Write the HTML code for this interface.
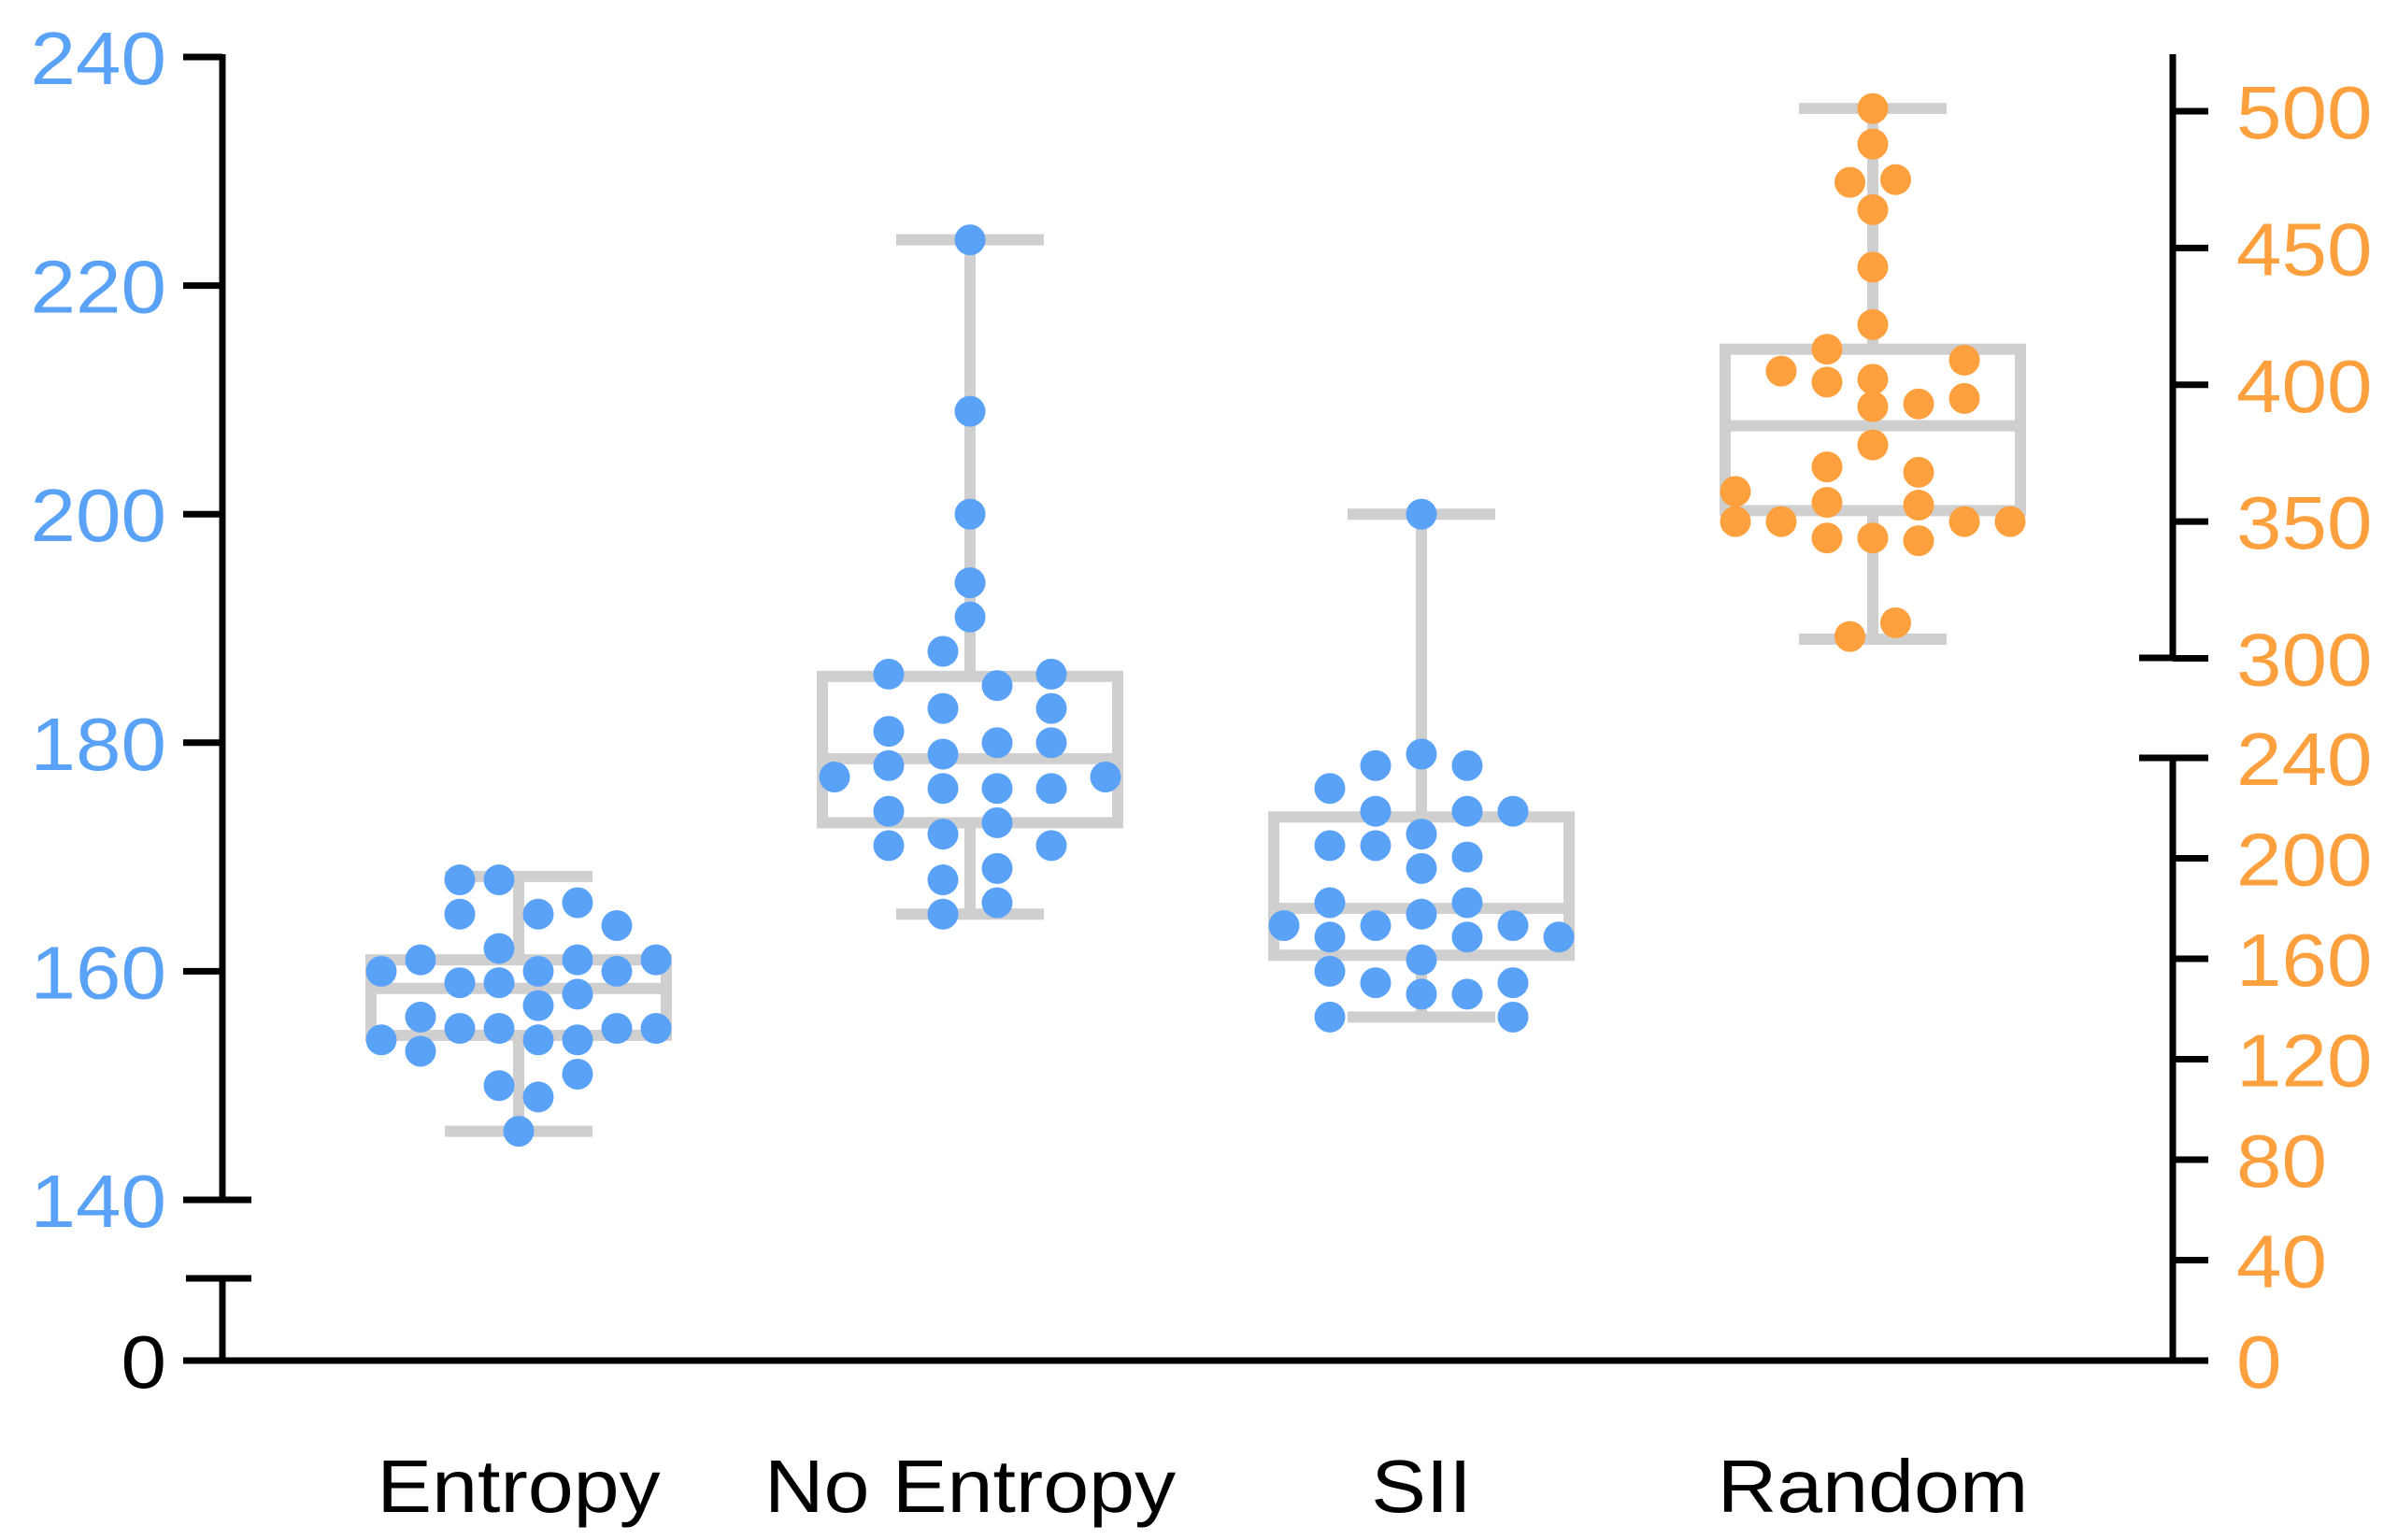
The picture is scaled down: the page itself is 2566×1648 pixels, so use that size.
<!DOCTYPE html>
<html><head><meta charset="utf-8"><style>
html,body{margin:0;padding:0;background:#fff;}
svg{display:block;font-family:"Liberation Sans",sans-serif;}
</style></head><body>
<svg id="chart" width="2566" height="1648" viewBox="0 0 2566 1648"></svg>
<script>
const categories = ["Entropy","No Entropy","SII","Random"];
const leftTicks = [140,160,180,200,220,240];
const rightUpperTicks = [300,350,400,450,500];
const rightLowerTicks = [0,40,80,120,160,200,240];
// [slot, value]
const entropyPts = [[-1.5,168],[-0.5,168],[-1.5,165],[0.5,165],[1.5,166],[2.5,164],[-0.5,162],[-2.5,161],[1.5,161],[3.5,161],[-3.5,160],[0.5,160],[2.5,160],[-1.5,159],[-0.5,159],[1.5,158],[0.5,157],[-2.5,156],[-1.5,155],[-0.5,155],[2.5,155],[3.5,155],[-3.5,154],[0.5,154],[1.5,154],[-2.5,153],[1.5,151],[-0.5,150],[0.5,149],[0,146]];
const noEntropyPts = [[0,224],[0,209],[0,200],[0,194],[0,191],[-0.5,188],[-1.5,186],[1.5,186],[0.5,185],[-0.5,183],[1.5,183],[-1.5,181],[0.5,180],[1.5,180],[-0.5,179],[-1.5,178],[-2.5,177],[2.5,177],[-0.5,176],[0.5,176],[1.5,176],[-1.5,174],[0.5,173],[-0.5,172],[-1.5,171],[1.5,171],[0.5,169],[-0.5,168],[0.5,166],[-0.5,165]];
const siiPts = [[0,200],[-1,178],[0,179],[1,178],[-2,176],[-1,174],[1,174],[2,174],[0,172],[-2,171],[-1,171],[1,170],[0,169],[-2,166],[1,166],[-3,164],[-1,164],[2,164],[-2,163],[1,163],[3,163],[0,165],[0,161],[-2,160],[-1,159],[2,159],[0,158],[1,158],[-2,156],[2,156]];
const randomPts = [[0,501],[0,488],[-0.5,474],[0.5,475],[0,464],[0,443],[0,422],[-1,413],[2,409],[-2,405],[-1,401],[0,402],[0,392],[1,393],[2,395],[0,378],[-1,370],[1,368],[-3,361],[-1,357],[1,356],[-3,350],[-2,350],[-1,344],[0,344],[1,343],[2,350],[3,350],[-0.5,308],[0.5,313]];
// box stats: [min, q1, median, q3, max]
const entropyBox = [146,154.4,158.5,161,168.3];
const noEntropyBox = [165,173,178.6,185.8,224];
const siiBox = [156,161.4,165.5,173.5,200];
const randomBox = [307,354,385,413,501];

const svg = document.getElementById('chart');
const NS = 'http://www.w3.org/2000/svg';
function mk(tag, attrs, parent){const e=document.createElementNS(NS,tag);for(const k in attrs)e.setAttribute(k,attrs[k]);(parent||svg).appendChild(e);return e;}
function txt(x,y,size,anchor,fill,content,sx){
  const t=mk('text',{transform:'translate('+x+','+y+') scale('+sx+',1)','font-size':size,'text-anchor':anchor,fill:fill});
  t.textContent=content;return t;
}
const yL = v => v>=140 ? 1284-(v-140)*12.23 : 1456-v*0.6;
const yRU = v => 704.5-(v-300)*2.9275;
const yRL = v => 1456-v*2.6875;
const xC = i => 555+i*483;
const BLUE='#5aa2f7', ORANGE='#ffa03f', GRAY='#cfcfcf';

const groups=[[entropyPts,entropyBox,yL,42,BLUE],[noEntropyPts,noEntropyBox,yL,58,BLUE],[siiPts,siiBox,yL,49,BLUE],[randomPts,randomBox,yRU,49,ORANGE]];
groups.forEach((g,i)=>{
  const [pts,b,ys,sp,col]=g; const cx=xC(i);
  const bg=mk('g',{});
  
  
  const sw=12;
  mk('line',{x1:cx,x2:cx,y1:ys(b[4]),y2:ys(b[0]),stroke:GRAY,'stroke-width':sw},bg);
  mk('line',{x1:cx-79,x2:cx+79,y1:ys(b[4]),y2:ys(b[4]),stroke:GRAY,'stroke-width':sw},bg);
  mk('line',{x1:cx-79,x2:cx+79,y1:ys(b[0]),y2:ys(b[0]),stroke:GRAY,'stroke-width':sw},bg);
  mk('rect',{x:cx-158,y:ys(b[3]),width:316,height:ys(b[1])-ys(b[3]),fill:'#fff',stroke:GRAY,'stroke-width':sw},bg);
  mk('line',{x1:cx-158,x2:cx+158,y1:ys(b[2]),y2:ys(b[2]),stroke:GRAY,'stroke-width':sw},bg);
  pts.forEach(p=>{
    const c=mk('circle',{cx:cx+p[0]*sp,cy:ys(p[1]),r:16.5,fill:col});
    
    
  });
  const t=txt(cx,1618,80,'middle','#000',categories[i],1.1);
  
  
});

// axes
const ax=mk('g',{stroke:'#000','stroke-width':7,fill:'none'});


mk('line',{x1:238,x2:238,y1:58,y2:1287},ax);
mk('line',{x1:238,x2:238,y1:1366,y2:1456},ax);
mk('line',{x1:196,x2:2363,y1:1456,y2:1456},ax);
mk('line',{x1:199,x2:269,y1:1368,y2:1368},ax);
mk('line',{x1:2325,x2:2325,y1:58,y2:707},ax);
mk('line',{x1:2325,x2:2325,y1:808,y2:1456},ax);
mk('line',{x1:2289,x2:2325,y1:704,y2:704},ax);
mk('line',{x1:2289,x2:2325,y1:811,y2:811},ax);
leftTicks.forEach(v=>{
  const y=yL(v);
  mk('line',{x1:196,x2:v===140?269:238,y1:y,y2:y},ax);
  const t=txt(178,y+29,80,'end',BLUE,v,1.09);
  
  
});
{const t=txt(178,1485,80,'end','#000','0',1.09);

}
rightUpperTicks.forEach(v=>{
  const y=yRU(v);
  mk('line',{x1:2325,x2:2363,y1:y,y2:y},ax);
  const t=txt(2393,y+29,80,'start',ORANGE,v,1.09);
  
  
});
rightLowerTicks.forEach(v=>{
  const y=yRL(v);
  mk('line',{x1:2325,x2:2363,y1:y,y2:y},ax);
  const t=txt(2393,y+29,80,'start',ORANGE,v,1.09);
  
  
});
</script>
</body></html>
